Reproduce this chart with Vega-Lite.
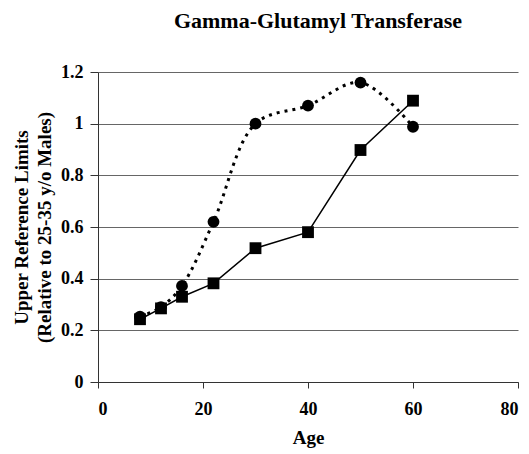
{
  "$schema": "https://vega.github.io/schema/vega-lite/v6.json",
  "autosize": "none",
  "width": 420,
  "height": 310,
  "padding": {"left": 98, "top": 72, "right": 11, "bottom": 72},
  "background": "white",
  "title": {
    "text": "Gamma-Glutamyl Transferase",
    "font": "Liberation Serif",
    "fontSize": 22,
    "fontWeight": "bold",
    "color": "black",
    "anchor": "middle",
    "dx": 10,
    "offset": 30
  },
  "datasets": {
    "circles": [
      {"age": 8, "value": 0.253},
      {"age": 12, "value": 0.29},
      {"age": 16, "value": 0.372},
      {"age": 22, "value": 0.62},
      {"age": 30, "value": 1.0},
      {"age": 40, "value": 1.07},
      {"age": 50, "value": 1.159},
      {"age": 60, "value": 0.988}
    ],
    "squares": [
      {"age": 8, "value": 0.243},
      {"age": 12, "value": 0.285},
      {"age": 16, "value": 0.33},
      {"age": 22, "value": 0.382},
      {"age": 30, "value": 0.518},
      {"age": 40, "value": 0.58},
      {"age": 50, "value": 0.898},
      {"age": 60, "value": 1.089}
    ]
  },
  "config": {
    "view": {"stroke": null},
    "axis": {
      "labelFont": "Liberation Serif",
      "labelFontSize": 18,
      "labelFontWeight": "bold",
      "labelColor": "black",
      "titleFont": "Liberation Serif",
      "titleFontSize": 19,
      "titleFontWeight": "bold",
      "titleColor": "black",
      "domainColor": "#333",
      "tickColor": "#333"
    }
  },
  "encoding": {
    "x": {
      "field": "age",
      "type": "quantitative",
      "scale": {"domain": [0, 80], "nice": false},
      "axis": {
        "title": "Age",
        "values": [0, 20, 40, 60, 80],
        "format": "d",
        "grid": false,
        "tickSize": 6,
        "labelPadding": 12,
        "titlePadding": 10
      }
    },
    "y": {
      "field": "value",
      "type": "quantitative",
      "scale": {"domain": [0, 1.2], "nice": false},
      "axis": {
        "title": ["Upper Reference Limits", "(Relative to 25-35 y/o Males)"],
        "values": [0, 0.2, 0.4, 0.6, 0.8, 1, 1.2],
        "format": "~g",
        "grid": true,
        "gridColor": "#666",
        "gridOpacity": 1,
        "gridWidth": 1,
        "tickSize": 8,
        "labelPadding": 7,
        "titlePadding": 6,
        "titleLineHeight": 23
      }
    }
  },
  "layer": [
    {
      "data": {"name": "circles"},
      "mark": {"type": "line", "interpolate": "catmull-rom", "color": "black", "strokeWidth": 3, "strokeDash": [3, 5]}
    },
    {
      "data": {"name": "squares"},
      "mark": {"type": "line", "color": "black", "strokeWidth": 1.5}
    },
    {
      "data": {"name": "circles"},
      "mark": {"type": "point", "shape": "circle", "filled": true, "color": "black", "opacity": 1, "size": 140}
    },
    {
      "data": {"name": "squares"},
      "mark": {"type": "point", "shape": "square", "filled": true, "color": "black", "opacity": 1, "size": 140}
    }
  ]
}
